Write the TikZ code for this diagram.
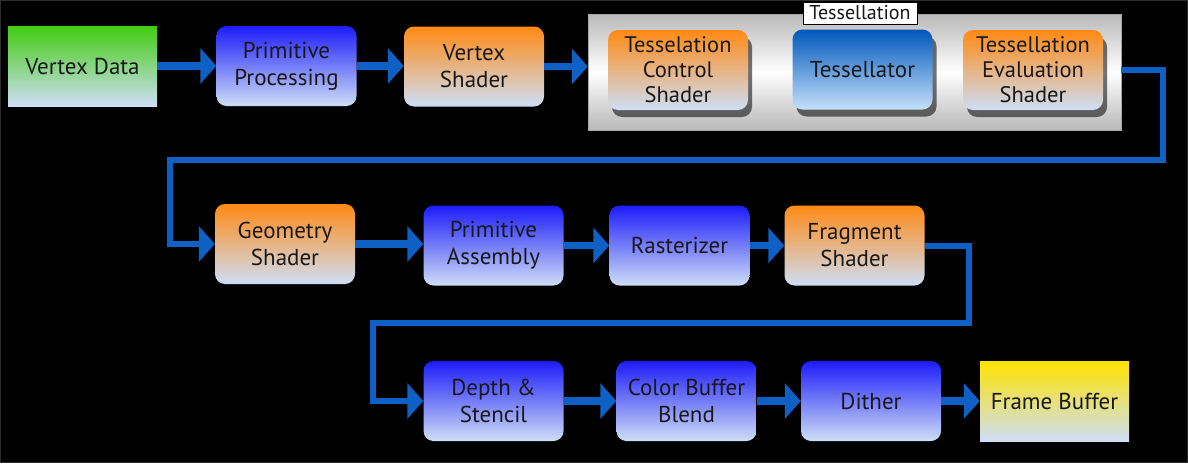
\documentclass[tikz,border=0pt]{standalone}
\usepackage{fontspec}
\setmainfont{PT Sans}
\usetikzlibrary{arrows.meta,shadows}
\definecolor{arrowblue}{RGB}{14,96,196}
\definecolor{lightbot}{RGB}{206,222,246}
\definecolor{blutop}{RGB}{28,28,250}
\definecolor{orgtop}{RGB}{255,138,20}
\definecolor{grntop}{RGB}{66,204,16}
\definecolor{yeltop}{RGB}{255,226,0}
\definecolor{tsltop}{RGB}{0,88,188}
\definecolor{tslbot}{RGB}{196,224,250}
\definecolor{txt}{RGB}{24,24,24}
\begin{document}
\begin{tikzpicture}[x=1pt,y=-1pt,
  box/.style={minimum width=140pt, minimum height=80pt, rounded corners=10pt,
    align=center, font=\fontsize{23}{27}\selectfont, text=txt, inner sep=1pt},
  threeline/.style={font=\fontsize{22.5}{25}\selectfont},
  orangebox/.style={box, top color=orgtop, bottom color=lightbot},
  bluebox/.style={box, top color=blutop, bottom color=lightbot},
  squarebox/.style={box, rounded corners=0pt, minimum width=149pt},
  shadowed/.style={drop shadow={shadow xshift=4pt, shadow yshift=-7pt, fill=black, opacity=0.55}},
  arr/.style={draw=arrowblue, line width=7.5pt, -{Triangle[width=35pt,length=16pt]}},
  conn/.style={draw=arrowblue, line width=6pt, line join=miter, -{Triangle[width=35pt,length=16pt]}}
]
\fill[black] (0,0) rectangle (1188,463);
\useasboundingbox (0,0) rectangle (1188,463);
\draw[gray!35!black, line width=1pt] (0.5,0.5) rectangle (1187.5,462.5);

% row 1
\node[squarebox, top color=grntop, bottom color=lightbot] (vd) at (82.5,66) {Vertex Data};
\node[bluebox] (pp) at (286.5,66) {Primitive\\Processing};
\node[orangebox] (vs) at (474,66.5) {Vertex\\Shader};

\node[minimum width=533pt, minimum height=116pt, inner sep=0pt,
  top color=gray!55, bottom color=gray!55, middle color=white, draw=gray!70] (tg) at (854.5,72) {};
\node[draw=black, fill=white, line width=0.8pt, inner sep=1pt, minimum width=114pt, minimum height=22pt,
  font=\fontsize{20}{22}\selectfont, text=txt] (tglabel) at (860,13) {Tessellation};

\node[orangebox, threeline, shadowed] (tcs) at (678,70) {Tesselation\\Control\\Shader};
\node[box, top color=tsltop, bottom color=tslbot, shadowed] (tsl) at (862.5,69.5) {Tessellator};
\node[orangebox, threeline, shadowed] (tev) at (1033,70) {Tessellation\\Evaluation\\Shader};

% row 2
\node[orangebox] (gs) at (285,244) {Geometry\\Shader};
\node[bluebox] (pa) at (493.5,245.5) {Primitive\\Assembly};
\node[bluebox] (ra) at (679.5,245.5) {Rasterizer};
\node[orangebox] (fs) at (854.5,245.5) {Fragment\\Shader};

% row 3
\node[bluebox] (ds) at (493.5,401) {Depth \&\\Stencil};
\node[bluebox] (cb) at (686.5,401) {Color Buffer\\Blend};
\node[bluebox] (di) at (871,401) {Dither};
\node[squarebox, top color=yeltop, bottom color=lightbot] (fb) at (1054.5,401) {Frame Buffer};

% arrows
\draw[arr] (vd.east) -- (vd.east -| pp.west);
\draw[arr] (pp.east) -- (pp.east -| vs.west);
\draw[arr] (vs.east) -- (vs.east -| tg.west);

\coordinate (c1) at (1163,160);
\coordinate (c2) at (170,160);
\draw[conn] (tev.east -| tg.east) -| (c1) -- (c2) |- (gs.west);

\draw[arr] (gs.east) -- (gs.east -| pa.west);
\draw[arr] (pa.east) -- (ra.west);
\draw[arr] (ra.east) -- (fs.west);

\coordinate (c3) at (969,323);
\coordinate (c4) at (373,323);
\draw[conn] (fs.east) -| (c3) -- (c4) |- (ds.west);

\draw[arr] (ds.east) -- (cb.west);
\draw[arr] (cb.east) -- (di.west);
\draw[arr] (di.east) -- (fb.west);
\end{tikzpicture}
\end{document}
